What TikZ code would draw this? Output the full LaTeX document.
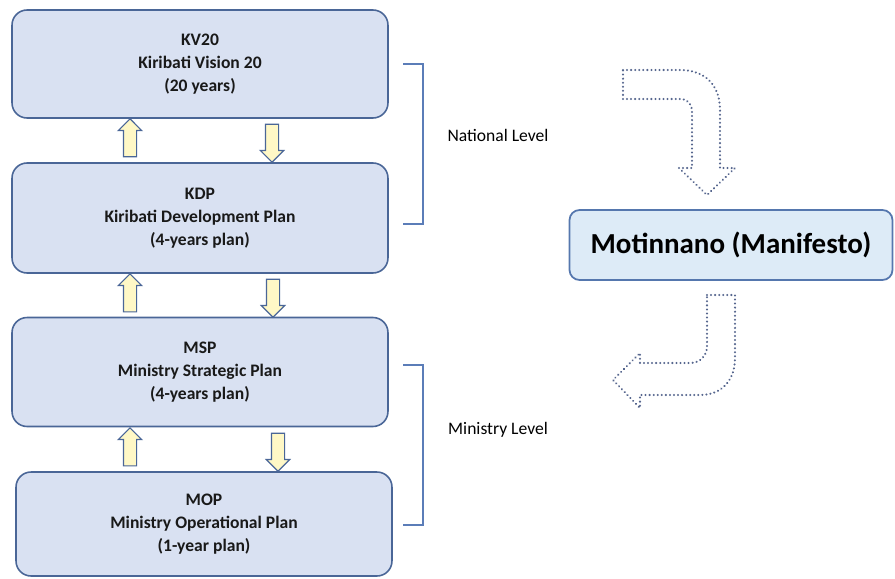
\documentclass[tikz,border=0pt]{standalone}
\usepackage{fontspec}
\setmainfont{Carlito}
\usetikzlibrary{shapes.arrows}
\definecolor{planfill}{HTML}{D9E1F2}
\definecolor{planline}{HTML}{4A6697}
\definecolor{motifill}{HTML}{DDEBF7}
\definecolor{motiline}{HTML}{5577AE}
\definecolor{arrowfill}{HTML}{FFF8C6}
\definecolor{dotline}{HTML}{56668E}
\definecolor{levelline}{HTML}{5B7DB8}
\tikzstyle{every picture} = [x=0.02cm, y=-0.02cm]
\tikzstyle{plan} = [rectangle, rounded corners=0.3cm, draw=planline, line width=0.9pt, fill=planfill, minimum width=7.52cm, align=center, font=\bfseries\fontsize{10}{13}\selectfont, text=black!90]
\tikzstyle{flow} = [single arrow, draw=planline, fill=arrowfill, line width=0.7pt, inner xsep=0pt, inner ysep=0.12cm, single arrow head extend=0.1cm, minimum height=0.76cm, anchor=tip]
\tikzstyle{level} = [draw=levelline, line width=0.9pt]
\tikzstyle{bent} = [draw=dotline, line width=1.3pt, dash pattern=on 0.01pt off 2.3pt, line cap=round, fill=white]

\begin{document}
\begin{tikzpicture}
            \useasboundingbox (0,0) rectangle (895,578);
            \node (kv20) at(200,64) [plan, minimum height=2.16cm] {KV20\\Kiribati Vision 20\\(20 years)};
            \node (kdp) at(200,218) [plan, minimum height=2.2cm] {KDP\\Kiribati Development Plan\\(4-years plan)};
            \node (msp) at(200,372) [plan, minimum height=2.18cm] {MSP\\Ministry Strategic Plan\\(4-years plan)};
            \node (mop) at(204,524) [plan, minimum height=2.08cm] {MOP\\Ministry Operational Plan\\(1-year plan)};

            \node (up 1) at(130,118) [flow, rotate=90] {};
            \node (down 1) at(272,163) [flow, rotate=-90] {};
            \node (up 2) at(130,273) [flow, rotate=90] {};
            \node (down 2) at(273,318) [flow, rotate=-90] {};
            \node (up 3) at(130,427) [flow, rotate=90] {};
            \node (down 3) at(278,472) [flow, rotate=-90] {};

            \draw[level] (403,64) -- (423,64) -- (423,224) -- (403,224);
            \draw[level] (403,365) -- (423,365) -- (423,525) -- (403,525);
            \node (national) at(498,135) [font=\fontsize{10}{12}\selectfont] {National Level};
            \node (ministry) at(498,430) [font=\fontsize{10}{12}\selectfont] {Ministry Level};

            \node (moti) at(731,245) [rectangle, rounded corners=0.2cm, draw=motiline, fill=motifill, line width=1pt, minimum width=6.46cm, minimum height=1.4cm, font=\bfseries\fontsize{16.5}{20}\selectfont] {Motinnano (Manifesto)};

            \draw[bent] (623,70) -- (680,70) .. controls (705,70) and (720,85) .. (720,110) -- (720,168) -- (735,168) -- (707,195) -- (679,168) -- (692,168) -- (692,112) .. controls (692,104) and (688,99) .. (680,99) -- (623,99) -- cycle;
            \draw[bent] (707,295) -- (735,295) -- (735,358) .. controls (735,380) and (722,395) .. (700,395) -- (640,395) -- (640,408) -- (613,380) -- (640,353) -- (640,363) -- (690,363) .. controls (700,363) and (707,356) .. (707,346) -- cycle;
\end{tikzpicture}
\end{document}
